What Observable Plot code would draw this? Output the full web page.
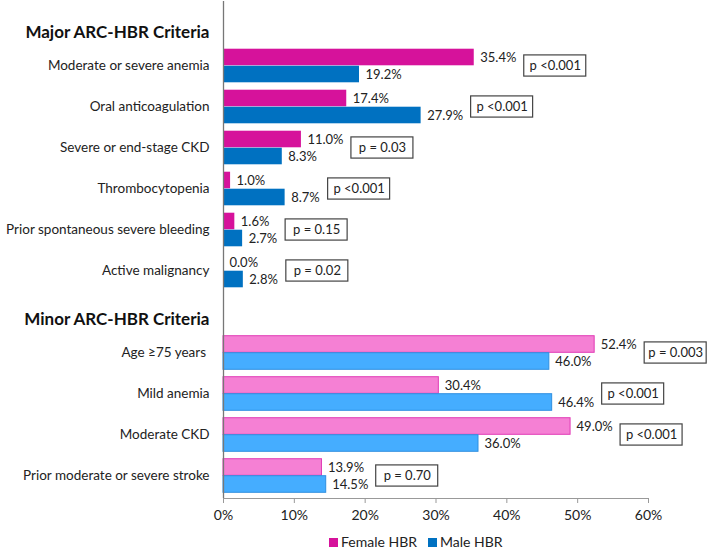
<!DOCTYPE html>
<html>
<head>
<meta charset="utf-8">
<script src="https://cdn.jsdelivr.net/npm/d3@7"></script>
<script src="https://cdn.jsdelivr.net/npm/@observablehq/plot@0.6"></script>
<style>
  html, body { margin: 0; padding: 0; background: #fff; }
  body { width: 709px; height: 553px; overflow: hidden; font-family: Lato, "Open Sans", sans-serif; }
  #legend { position: absolute; left: 0; top: 532px; width: 709px; height: 21px; font-size: 14px; color: #222; }
  .sw { position: absolute; top: 6px; width: 9px; height: 9px; }
  .lb { position: absolute; top: 1px; }
</style>
</head>
<body>
<div id="chart"></div>
<div id="legend"></div>
<script>
// ---- data ----
const headers = ["Major ARC-HBR Criteria", "Minor ARC-HBR Criteria"];
const majorCategories = ["Moderate or severe anemia", "Oral anticoagulation", "Severe or end-stage CKD", "Thrombocytopenia", "Prior spontaneous severe bleeding", "Active malignancy"];
const minorCategories = ["Age \u226575 years\u00a0", "Mild anemia", "Moderate CKD", "Prior moderate or severe stroke"];
const femaleMajor = [35.4, 17.4, 11.0, 1.0, 1.6, 0.0];
const maleMajor = [19.2, 27.9, 8.3, 8.7, 2.7, 2.8];
const femaleMinor = [52.4, 30.4, 49.0, 13.9];
const maleMinor = [46.0, 46.4, 36.0, 14.5];
const pMajor = ["p <0.001", "p <0.001", "p = 0.03", "p <0.001", "p = 0.15", "p = 0.02"];
const pMinor = ["p = 0.003", "p <0.001", "p <0.001", "p = 0.70"];
const xTicks = [0, 10, 20, 30, 40, 50, 60];
const seriesNames = ["Female HBR", "Male HBR"];

// ---- build table ----
const rows = [];
majorCategories.forEach((c, i) => rows.push({cat: c, group: "major", female: femaleMajor[i], male: maleMajor[i], p: pMajor[i]}));
minorCategories.forEach((c, i) => rows.push({cat: c, group: "minor", female: femaleMinor[i], male: maleMinor[i], p: pMinor[i]}));
rows.forEach(r => {
  r.max = Math.max(r.female, r.male);
  r.maxLabel = r.max.toFixed(1) + "%";
});
const headerKeys = ["__major", "__minor"];
const yDomain = [headerKeys[0], ...majorCategories, headerKeys[1], ...minorCategories];
const headerRows = [{key: headerKeys[0], text: headers[0]}, {key: headerKeys[1], text: headers[1]}];

const colors = {
  major: {female: "#d6129b", male: "#0071c1", fs: "#d6129b", ms: "#0071c1"},
  minor: {female: "#f580d4", male: "#45adff", fs: "#e03bb5", ms: "#2f8fe0"}
};

const height = 530, marginTop = 1, marginBottom = 32;
const band = (height - marginTop - marginBottom) / yDomain.length;
const half = band / 2;
const barH = 17;

const font = "Lato, 'Open Sans', sans-serif";
const major = rows.filter(r => r.group === "major");
const minor = rows.filter(r => r.group === "minor");
const longLab = rows.filter(r => r.maxLabel.length >= 5);
const shortLab = rows.filter(r => r.maxLabel.length < 5);

const barMarks = (data, g) => [
  Plot.barX(data, {x: "female", y: "cat", fill: colors[g].female, stroke: g === "minor" ? colors[g].fs : "none", strokeWidth: 1,
    insetTop: half - barH, insetBottom: half}),
  Plot.barX(data, {x: "male", y: "cat", fill: colors[g].male, stroke: g === "minor" ? colors[g].ms : "none", strokeWidth: 1,
    insetTop: half, insetBottom: half - barH})
];

const boxMarks = (data, off) => [
  Plot.barX(data, {x1: "max", x2: "max", y: "cat", fill: "white", stroke: "#444", strokeWidth: 1.2,
    insetLeft: off, insetRight: -(off + 62), insetTop: half - 10.8, insetBottom: half - 10.8}),
  Plot.text(data, {x: "max", y: "cat", text: "p", dx: off + 31, textAnchor: "middle", fontSize: 13, fill: "#222"})
];

const chart = Plot.plot({
  width: 709,
  height,
  marginLeft: 223,
  marginRight: 61,
  marginTop,
  marginBottom,
  style: {fontFamily: font, fontSize: "14px", color: "#222", background: "white"},
  x: {domain: [0, 60]},
  y: {domain: yDomain, padding: 0},
  marks: [
    ...barMarks(major, "major"),
    ...barMarks(minor, "minor"),
    Plot.text(rows, {x: "female", y: "cat", text: d => d.female.toFixed(1) + "%", dx: 6, dy: -(barH / 2), textAnchor: "start", fontSize: 13, fill: "#222"}),
    Plot.text(rows, {x: "male", y: "cat", text: d => d.male.toFixed(1) + "%", dx: 6, dy: barH / 2, textAnchor: "start", fontSize: 13, fill: "#222"}),
    ...boxMarks(longLab, 50),
    ...boxMarks(shortLab, 43),
    Plot.ruleX([0], {stroke: "#777", strokeWidth: 1.3}),
    Plot.frame({anchor: "bottom", stroke: "#999"}),
    Plot.axisX({ticks: xTicks, tickFormat: d => d + "%", tickSize: 5, tickPadding: 7, fontSize: 14, stroke: "#999", color: "#222"}),
    Plot.axisY({tickSize: 0, tickPadding: 14, fontSize: 13.5, tickFormat: d => d.startsWith("__") ? "" : d, label: null}),
    Plot.text(headerRows, {x: () => 0, y: "key", text: "text", dx: -14, dy: 8, textAnchor: "end", fontSize: 17, fontWeight: "bold", fill: "#111"})
  ]
});
document.getElementById("chart").appendChild(chart);

// legend
const legend = document.getElementById("legend");
const items = [{name: seriesNames[0], color: colors.major.female, x: 329}, {name: seriesNames[1], color: colors.major.male, x: 428}];
items.forEach(it => {
  const sw = document.createElement("div");
  sw.className = "sw"; sw.style.left = it.x + "px"; sw.style.background = it.color;
  const lb = document.createElement("div");
  lb.className = "lb"; lb.style.left = (it.x + 12) + "px"; lb.textContent = it.name;
  legend.appendChild(sw); legend.appendChild(lb);
});
</script>
</body>
</html>
